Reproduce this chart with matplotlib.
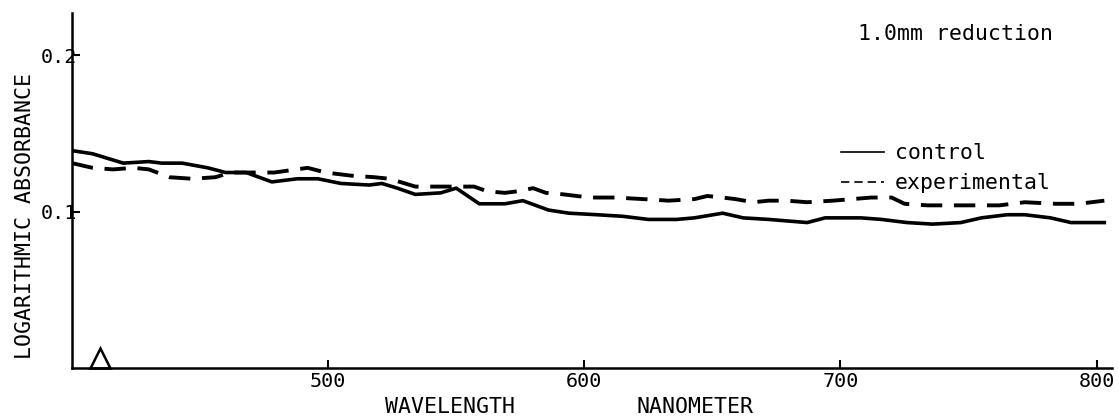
import matplotlib
matplotlib.use("Agg")
import matplotlib.pyplot as plt
from matplotlib.lines import Line2D

# ---- data ----
control_nm = [400, 408, 420, 430, 435, 443, 453, 460, 468, 478, 488, 496, 505, 516, 521,
              527, 534, 544, 550, 559, 569, 576, 586, 594, 605, 615, 625, 636, 643, 654,
              662, 672, 687, 694, 698, 708, 716, 726, 736, 747, 755, 765, 772, 782, 790, 803]
control_abs = [0.139, 0.137, 0.131, 0.132, 0.131, 0.131, 0.128, 0.125, 0.125, 0.119, 0.121,
               0.121, 0.118, 0.117, 0.118, 0.115, 0.111, 0.112, 0.115, 0.105, 0.105, 0.107,
               0.101, 0.099, 0.098, 0.097, 0.095, 0.095, 0.096, 0.099, 0.096, 0.095, 0.093,
               0.096, 0.096, 0.096, 0.095, 0.093, 0.092, 0.093, 0.096, 0.098, 0.098, 0.096,
               0.093, 0.093]

exp_nm = [400, 408, 416, 424, 430, 438, 447, 456, 462, 470, 479, 492, 499, 509, 518, 524,
          534, 541, 550, 557, 562, 569, 574, 580, 585, 592, 602, 612, 623, 633, 643, 648,
          654, 659, 666, 672, 679, 687, 697, 712, 720, 725, 734, 743, 752, 762, 772, 784,
          793, 803]
exp_abs = [0.131, 0.128, 0.127, 0.128, 0.127, 0.122, 0.121, 0.122, 0.125, 0.125, 0.125,
           0.128, 0.125, 0.123, 0.122, 0.121, 0.116, 0.116, 0.116, 0.116, 0.113, 0.112,
           0.113, 0.115, 0.112, 0.111, 0.109, 0.109, 0.108, 0.107, 0.108, 0.110, 0.109,
           0.108, 0.106, 0.107, 0.107, 0.106, 0.107, 0.109, 0.109, 0.105, 0.104, 0.104,
           0.104, 0.104, 0.106, 0.105, 0.105, 0.107]

marker_nm = [411]
marker_abs = [0.0065]

x_ticks = [500, 600, 700, 800]
x_tick_labels = ["500", "600", "700", "800"]
y_ticks = [0.1, 0.2]
y_tick_labels = ["0.1", "0.2"]

FONT = ["DejaVu Sans Mono"]
plt.rcParams["font.family"] = FONT
FS_TICK = 14.5
FS = 15.5

fig = plt.figure(figsize=(11.19, 4.19), dpi=100)
W, H = 1119, 419
ax = fig.add_axes([72 / W, (H - 368) / H, (1112 - 72) / W, (368 - 13) / H])

ax.plot(control_nm, control_abs, color="black", lw=2.6)
ax.plot(exp_nm, exp_abs, color="black", lw=2.8, linestyle=(0, (5.5, 3)))
ax.plot(marker_nm, marker_abs, marker="^", ms=15, mfc="none", mec="black", mew=1.8,
        linestyle="none", clip_on=False)

ax.set_xlim(400, 806)
ax.set_ylim(0, 0.227)

for s in ["top", "right"]:
    ax.spines[s].set_visible(False)
for s in ["left", "bottom"]:
    ax.spines[s].set_linewidth(1.8)

ax.set_xticks(x_ticks)
ax.set_xticklabels(x_tick_labels)
ax.set_yticks(y_ticks)
ax.set_yticklabels(y_tick_labels)
ax.tick_params(axis="x", direction="in", length=6, width=1.5, labelsize=FS_TICK, pad=3)
ax.tick_params(axis="y", direction="in", length=6, width=1.5, labelsize=FS_TICK, pad=-4)

fig.text(25 / W, 1 - 216 / H, "LOGARITHMIC ABSORBANCE", rotation=90, ha="center",
         va="center", fontsize=FS)
fig.text(450 / W, 1 - 407 / H, "WAVELENGTH", ha="center", va="center", fontsize=FS)
fig.text(695 / W, 1 - 407 / H, "NANOMETER", ha="center", va="center", fontsize=FS)

fig.text(858 / W, 1 - 34 / H, "1.0mm reduction", ha="left", va="center", fontsize=FS)

handles = [Line2D([], [], color="black", lw=1.2),
           Line2D([], [], color="black", lw=1.2, linestyle=(0, (5, 3)))]
fig.legend(handles, ["control", "experimental"], loc="upper left",
           bbox_to_anchor=(822 / W, 1 - 124 / H), frameon=False, fontsize=FS,
           handlelength=2.0, handletextpad=0.5, labelspacing=0.45)

fig.savefig("out.png", dpi=100)
